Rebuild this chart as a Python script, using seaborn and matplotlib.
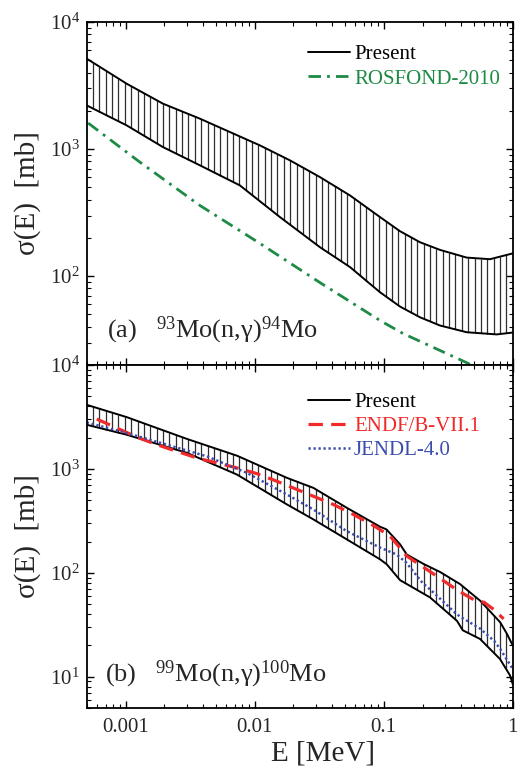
import numpy as np
import pandas as pd
import matplotlib
matplotlib.use("Agg")
import matplotlib.pyplot as plt
import seaborn as sns
from matplotlib.ticker import LogLocator, FixedLocator, FuncFormatter, NullFormatter

# ---------------- data ----------------
XMIN, XMAX = 5e-4, 1.0

# (a) 93Mo(n,g)94Mo
a_up_E = [5e-4, 0.00102, 0.00195, 0.00377, 0.011, 0.0188, 0.0321, 0.0548, 0.0936, 0.1337, 0.191, 0.273, 0.44, 0.667, 1.0]
a_up_S = [5150, 3270, 2277, 1735, 1069, 815, 602, 432, 292, 226, 185, 161, 140, 136, 151]
a_lo_E = [5e-4, 0.00102, 0.00195, 0.00377, 0.00769, 0.0157, 0.0321, 0.0548, 0.0936, 0.1337, 0.191, 0.273, 0.44, 0.751, 1.0]
a_lo_S = [2208, 1537, 1037, 745, 518, 292, 169, 118, 74.8, 57.7, 47.5, 40.9, 36.2, 34.8, 36.0]
ros_E = [5.13e-4, 0.00129, 0.00377, 0.011, 0.0321, 0.0936, 0.141, 0.451, 0.55]
ros_S = [1603, 790, 360, 181, 89, 44.8, 35.4, 20.6, 18.5]

# (b) 99Mo(n,g)100Mo
b_up_E = [5e-4, 0.00102, 0.003, 0.0073, 0.0178, 0.0285, 0.0517, 0.0936, 0.105, 0.134, 0.151, 0.203, 0.273, 0.39, 0.56, 0.8, 0.9, 1.0]
b_up_S = [4136, 3150, 1940, 1340, 820, 657, 423, 278, 262, 188, 150, 122, 102, 78, 53.8, 33.4, 26, 20]
b_lo_E = [5e-4, 0.00102, 0.003, 0.0073, 0.0178, 0.0285, 0.0517, 0.0936, 0.1055, 0.134, 0.2285, 0.37, 0.41, 0.558, 0.797, 0.953, 1.0]
b_lo_S = [2659, 2133, 1424, 882, 455, 327, 210, 135, 121, 85, 58, 34.5, 28, 23.1, 14.8, 10.3, 8.5]
endf_E = [5.99e-4, 8.56e-4, 0.00122, 0.00175, 0.0025, 0.00357, 0.0051, 0.00729, 0.0104, 0.0149, 0.0285, 0.0407, 0.0581, 0.0831, 0.112, 0.151, 0.2155, 0.308, 0.36, 0.414, 0.5, 0.6, 0.72, 0.85]
endf_S = [3016, 2473, 2027, 1710, 1475, 1275, 1142, 1022, 901, 760, 546, 455, 365, 286, 226, 145, 108, 80, 70, 63, 55, 52, 44, 36]
jendl_E = [5e-4, 0.00102, 0.00209, 0.00427, 0.00872, 0.0178, 0.0285, 0.0517, 0.0936, 0.126, 0.15, 0.2, 0.242, 0.36, 0.39, 0.56, 0.72, 0.8, 1.0]
jendl_S = [2798, 2214, 1710, 1321, 915, 567, 407, 252, 175, 150, 125, 80, 65, 41, 38, 29, 22, 18.5, 11.9]

xticks = [0.001, 0.01, 0.1, 1]

# ---------------- style ----------------
sns.set_theme(style="ticks")
plt.rcParams["font.family"] = ["Liberation Serif", "DejaVu Serif"]
plt.rcParams["mathtext.fontset"] = "custom"
plt.rcParams["mathtext.rm"] = "Liberation Serif"
plt.rcParams["mathtext.it"] = "Liberation Serif:italic"
plt.rcParams["mathtext.bf"] = "Liberation Serif:bold"

GREEN = "#1d8a45"
RED = "#f02a2a"
BLUE = "#3b4cad"

fig = plt.figure(figsize=(5.27, 7.70), dpi=100)
ax1 = fig.add_axes([0.1645, 0.526, 0.8084, 0.4454])
ax2 = fig.add_axes([0.1645, 0.0805, 0.8084, 0.4455])


def hatch_band(ax, e_lo, s_lo, e_hi, s_hi, n=66):
    xs = np.geomspace(XMIN, XMAX, n + 2)[1:-1]
    lo = 10 ** np.interp(np.log10(xs), np.log10(e_lo), np.log10(s_lo))
    hi = 10 ** np.interp(np.log10(xs), np.log10(e_hi), np.log10(s_hi))
    ax.vlines(xs, lo, hi, colors="#2e2e2e", lw=0.9, zorder=1)


def line(ax, E, S, **kw):
    df = pd.DataFrame({"E": E, "S": S})
    sns.lineplot(data=df, x="E", y="S", ax=ax, estimator=None, sort=False, **kw)


for ax in (ax1, ax2):
    ax.set_xscale("log")
    ax.set_yscale("log")

# panel (a)
hatch_band(ax1, a_lo_E, a_lo_S, a_up_E, a_up_S)
line(ax1, a_up_E, a_up_S, color="black", lw=1.4, label="Present")
line(ax1, a_lo_E, a_lo_S, color="black", lw=1.4)
line(ax1, ros_E, ros_S, color=GREEN, lw=2.0, linestyle=(0, (4.5, 2.2, 1.0, 2.2)), label="ROSFOND-2010")

# panel (b)
hatch_band(ax2, b_lo_E, b_lo_S, b_up_E, b_up_S)
line(ax2, b_up_E, b_up_S, color="black", lw=1.4, label="Present")
line(ax2, b_lo_E, b_lo_S, color="black", lw=1.4)
line(ax2, endf_E, endf_S, color=RED, lw=2.3, linestyle=(0, (4.5, 2.6)), label="ENDF/B-VII.1")
line(ax2, jendl_E, jendl_S, color=BLUE, lw=1.8, linestyle=(0, (0.9, 1.1)), label="JENDL-4.0")

ax1.set_ylim(20, 1e4)
ax2.set_ylim(5, 1e4)

for ax in (ax1, ax2):
    ax.set_xlim(XMIN, XMAX)
    ax.xaxis.set_major_locator(FixedLocator(xticks))
    ax.xaxis.set_minor_locator(LogLocator(base=10, subs=np.arange(2, 10), numticks=20))
    ax.xaxis.set_minor_formatter(NullFormatter())
    ax.yaxis.set_major_locator(LogLocator(base=10, numticks=10))
    ax.yaxis.set_minor_locator(LogLocator(base=10, subs=np.arange(2, 10), numticks=20))
    ax.yaxis.set_minor_formatter(NullFormatter())
    ax.tick_params(which="both", direction="in", top=True, right=True, color="black")
    ax.tick_params(which="major", length=5, width=1.0, labelsize=15, pad=5)
    ax.tick_params(which="minor", length=3, width=0.8)
    for sp in ax.spines.values():
        sp.set_linewidth(1.3)
        sp.set_color("black")
    ax.set_ylabel("σ(E)  [mb]", fontsize=21)
    ax.yaxis.set_label_coords(-0.107, 0.5)
    ax.set_xlabel("")

ax1.tick_params(labelbottom=False)
ax2.xaxis.set_major_formatter(FuncFormatter(lambda v, p: f"{v:g}"))
ax2.tick_params(axis="x", which="major", pad=7)
ax2.set_xlabel("E [MeV]", fontsize=21)
ax2.xaxis.set_label_coords(0.555, -0.095)

# legends
leg1 = ax1.legend(loc="upper left", bbox_to_anchor=(0.52, 0.935), frameon=False, fontsize=15,
                  handlelength=2.0, handletextpad=0.2, labelspacing=0.25, borderpad=0, borderaxespad=0)
for t, c in zip(leg1.get_texts(), ["black", GREEN]):
    t.set_color(c)
leg2 = ax2.legend(loc="upper left", bbox_to_anchor=(0.52, 0.92), frameon=False, fontsize=15,
                  handlelength=2.0, handletextpad=0.2, labelspacing=0.22, borderpad=0, borderaxespad=0)
for t, c in zip(leg2.get_texts(), ["black", RED, BLUE]):
    t.set_color(c)

# panel labels
ax1.text(0.047, 0.079, "(a)   $^{93}$Mo(n,γ)$^{94}$Mo", transform=ax1.transAxes,
         fontsize=19, va="baseline", ha="left")
ax2.text(0.043, 0.077, "(b)   $^{99}$Mo(n,γ)$^{100}$Mo", transform=ax2.transAxes,
         fontsize=19, va="baseline", ha="left")

fig.savefig("out.png", dpi=100)
